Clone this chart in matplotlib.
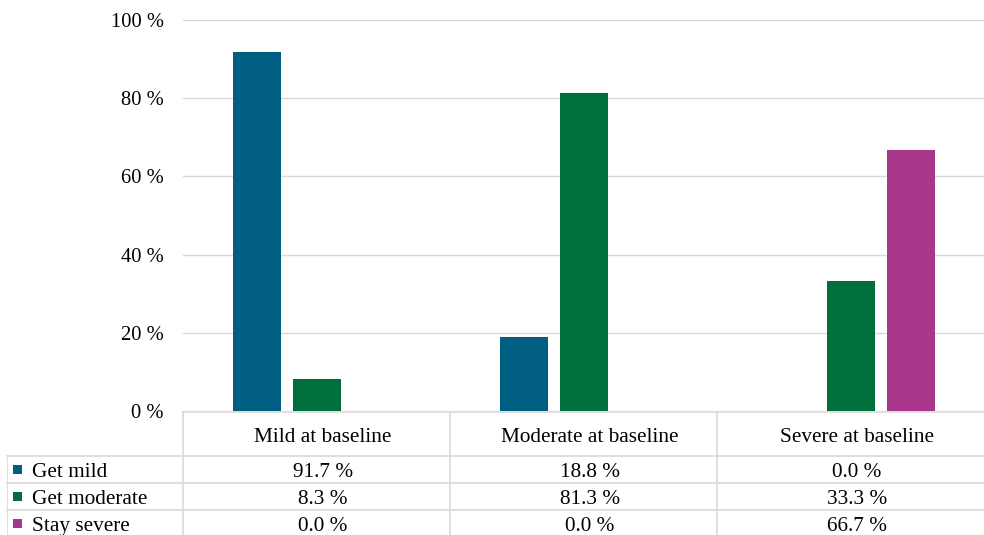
import numpy as np
import matplotlib
matplotlib.use("Agg")
import matplotlib.pyplot as plt
from matplotlib.patches import Rectangle

# categories and series (percent of patients)
categories = ["Mild at baseline", "Moderate at baseline", "Severe at baseline"]
series_names = ["Get mild", "Get moderate", "Stay severe"]
get_mild = [91.7, 18.8, 0.0]
get_moderate = [8.3, 81.3, 33.3]
stay_severe = [0.0, 0.0, 66.7]
y_ticks = [0, 20, 40, 60, 80, 100]

colors = ["#005e82", "#006f3b", "#a8368b"]
grid_col = "#d9d9d9"

plt.rcParams['font.family'] = ['Liberation Serif', 'DejaVu Serif']
fs_tick = 14.8
fs = 15.3

W, H = 984, 535
fig = plt.figure(figsize=(W / 100, H / 100), dpi=100)

# pixel layout of the plot area
px_left, px_right = 183, 984
px_top, px_zero = 20, 411
ax = fig.add_axes([px_left / W, (H - px_zero) / H,
                   (px_right - px_left) / W, (px_zero - px_top) / H])

values = [get_mild, get_moderate, stay_severe]
x = np.arange(len(categories))
bar_w = 0.18
step = 0.225
for i, vals in enumerate(values):
    ax.bar(x + (i - 1) * step + 0.003, vals, width=bar_w, color=colors[i],
           zorder=3, linewidth=0)

ax.set_xlim(-0.5, len(categories) - 0.5)
ax.set_ylim(0, 100)
ax.set_yticks(y_ticks)
ax.set_yticklabels([f"{t} %" for t in y_ticks], fontsize=fs_tick)
ax.set_xticks([])
ax.tick_params(axis='y', length=0, pad=14)
ax.grid(axis='y', color=grid_col, linewidth=1, zorder=0)
for s in ax.spines.values():
    s.set_visible(False)

# data table below the plot, sharing the category positions
unit_px = (px_right - px_left) / len(categories)
tbl_left_px = 7
label_w = (px_left - tbl_left_px) / unit_px
row_px = 27.0
header_px = 45.0
tax = fig.add_axes([tbl_left_px / W, 0, (W - tbl_left_px) / W, (H - px_zero) / H])
tax.set_xlim(-0.5 - label_w, len(categories) - 0.5)
total_rows = (H - px_zero) / row_px
tax.set_ylim(total_rows, 0)
tax.axis('off')

hdr = header_px / row_px
txt_dx = 6.5 / unit_px  # cell text sits a little right of the column centre
# horizontal rules
tax.plot([-0.5, len(categories) - 0.5], [0.02, 0.02], color=grid_col, lw=1.2,
         clip_on=False)
for r in range(len(series_names)):
    yy = hdr + r
    tax.plot([-0.5 - label_w, len(categories) - 0.5], [yy, yy],
             color=grid_col, lw=1.2, clip_on=False)
# vertical rules
tax.plot([-0.5 - label_w] * 2, [hdr, total_rows], color=grid_col, lw=1.2)
for c in range(len(categories)):
    tax.plot([c - 0.5, c - 0.5], [0, total_rows], color=grid_col, lw=1.2)

# header text
for c, name in enumerate(categories):
    tax.text(c + txt_dx, hdr / 2 + 0.14, name, ha='center', va='center',
             fontsize=fs)

# row labels with legend keys, and cell values
sq_w = 9 / unit_px
for r, (name, vals) in enumerate(zip(series_names, values)):
    yc = hdr + r + 0.5
    tax.add_patch(Rectangle((-0.5 - label_w + 6 / unit_px, yc - 0.5 * 9 / row_px),
                            sq_w, 9 / row_px, color=colors[r], lw=0))
    tax.text(-0.5 - label_w + 25 / unit_px, yc + 0.1, name, ha='left',
             va='center', fontsize=fs)
    for c, v in enumerate(vals):
        tax.text(c + txt_dx, yc + 0.1, f"{v:.1f} %", ha='center', va='center',
                 fontsize=fs)

fig.savefig("out.png", dpi=100)
